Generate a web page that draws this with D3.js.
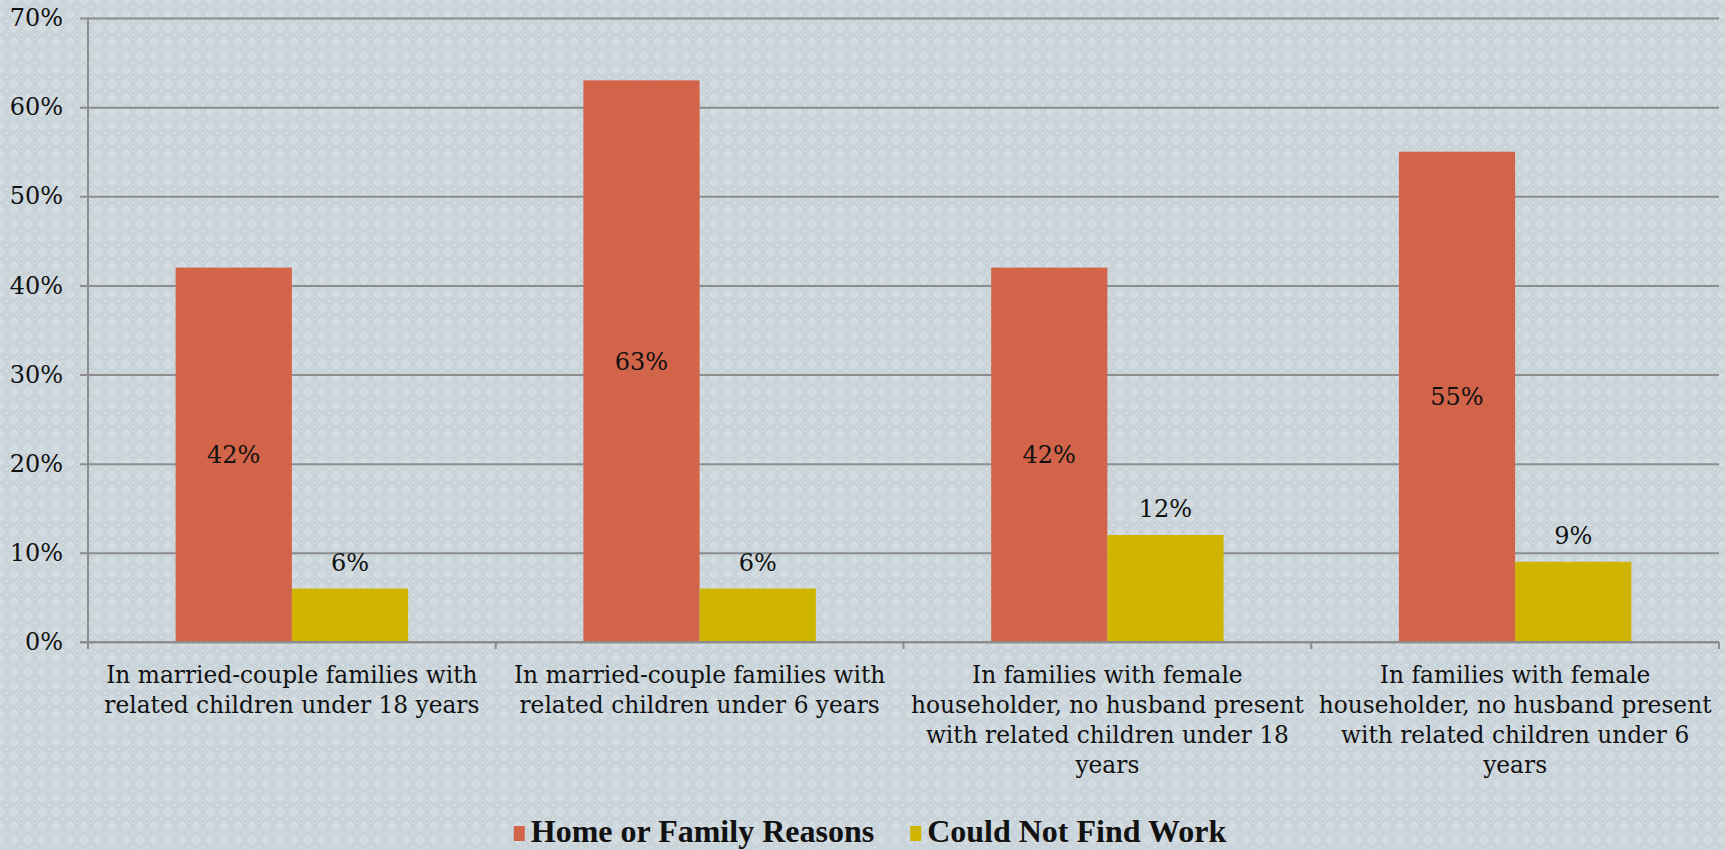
<!DOCTYPE html>
<html>
<head>
<meta charset="utf-8">
<script src="https://cdn.jsdelivr.net/npm/d3@7.9.0/dist/d3.min.js"></script>
<style>
  html, body { margin: 0; padding: 0; background: #d0dadf; }
  svg { display: block; }
  text { font-family: "DejaVu Serif", "Liberation Serif", serif; fill: #111; }
</style>
</head>
<body>
<svg id="chart" width="1725" height="850"></svg>
<script>
// Chart data
const categories = [
  "In married-couple families with\nrelated children under 18 years",
  "In married-couple families with\nrelated children under 6 years",
  "In families with female\nhouseholder, no husband present\nwith related children under 18\nyears",
  "In families with female\nhouseholder, no husband present\nwith related children under 6\nyears"
];
const seriesNames = ["Home or Family Reasons", "Could Not Find Work"];
const homeFamily = [42, 63, 42, 55];
const noWork = [6, 6, 12, 9];
const yTicks = [0, 10, 20, 30, 40, 50, 60, 70];
const colors = ["#d2644a", "#cfb400"];

const width = 1725, height = 850;
const margin = { top: 18, right: 6, bottom: 208, left: 88 };

const svg = d3.select('#chart');

// Background texture
const defs = svg.append('defs');
const pat = defs.append('pattern')
  .attr('id', 'bgpat')
  .attr('width', 14).attr('height', 14)
  .attr('patternUnits', 'userSpaceOnUse');
pat.append('rect').attr('width', 14).attr('height', 14).attr('fill', '#d1dbe0');
pat.append('path')
  .attr('d', 'M0,7 L7,0 L14,7 L7,14 Z M3.5,7 L7,3.5 L10.5,7 L7,10.5 Z')
  .attr('fill', 'none')
  .attr('stroke', '#c3ced5')
  .attr('stroke-width', 1.2);
svg.append('rect').attr('width', width).attr('height', height).attr('fill', 'url(#bgpat)');

const x0 = d3.scaleBand()
  .domain(categories)
  .range([margin.left, width - margin.right])
  .paddingInner(0).paddingOuter(0);

const x1 = d3.scaleBand()
  .domain(seriesNames)
  .range([0, x0.bandwidth()])
  .paddingInner(0).paddingOuter(0.754);

const y = d3.scaleLinear()
  .domain([0, 70])
  .range([height - margin.bottom, margin.top]);

const gridColor = '#8d8d8d';

// Gridlines + y labels
const yAxis = d3.axisLeft(y)
  .tickValues(yTicks)
  .tickSize(0)
  .tickPadding(17)
  .tickFormat(d => d + '%');

const gy = svg.append('g')
  .attr('transform', `translate(${margin.left - 8},0)`)
  .call(yAxis);
gy.select('.domain').remove();
gy.selectAll('.tick line')
  .attr('x1', 0)
  .attr('x2', width - margin.right - margin.left + 8)
  .attr('stroke', gridColor).attr('stroke-width', 2);
gy.selectAll('.tick text')
  .attr('font-size', 24)
  .attr('fill', '#111')
  .style('font-family', '"DejaVu Serif", serif');

// vertical axis line
svg.append('line')
  .attr('x1', margin.left).attr('x2', margin.left)
  .attr('y1', y(70)).attr('y2', y(0))
  .attr('stroke', gridColor).attr('stroke-width', 2);

// Bars
const rows = categories.map((c, i) => ({ cat: c, vals: [homeFamily[i], noWork[i]] }));

const groups = svg.append('g').selectAll('g')
  .data(rows)
  .join('g')
  .attr('transform', d => `translate(${x0(d.cat)},0)`);

groups.selectAll('rect')
  .data(d => d.vals.map((v, j) => ({ key: seriesNames[j], v, j })))
  .join('rect')
  .attr('x', d => x1(d.key))
  .attr('y', d => y(d.v))
  .attr('width', x1.bandwidth())
  .attr('height', d => y(0) - y(d.v))
  .attr('fill', d => colors[d.j]);

// Data labels
groups.selectAll('text.val')
  .data(d => d.vals.map((v, j) => ({ key: seriesNames[j], v, j })))
  .join('text')
  .attr('class', 'val')
  .attr('x', d => x1(d.key) + x1.bandwidth() / 2)
  .attr('y', d => d.j === 0 ? (y(d.v) + y(0)) / 2 : y(d.v) - 18)
  .attr('dy', d => d.j === 0 ? '0.35em' : 0)
  .attr('text-anchor', 'middle')
  .attr('font-size', 24)
  .text(d => d.v + '%');

// Bottom axis
const xAxis = d3.axisBottom(x0).tickSize(0).tickFormat('');
const gx = svg.append('g')
  .attr('transform', `translate(0,${y(0)})`)
  .call(xAxis);
gx.select('.domain').attr('stroke', gridColor).attr('stroke-width', 2)
  .attr('d', `M${margin.left - 8},0H${width - margin.right}`);
gx.selectAll('.tick').remove();

// category boundary ticks
const bounds = categories.map(c => x0(c)).concat([x0(categories[categories.length - 1]) + x0.bandwidth()]);
gx.selectAll('line.sep')
  .data(bounds)
  .join('line')
  .attr('class', 'sep')
  .attr('x1', d => d).attr('x2', d => d)
  .attr('y1', 0).attr('y2', 7)
  .attr('stroke', gridColor).attr('stroke-width', 2);

// Category labels
categories.forEach(c => {
  const cx = x0(c) + x0.bandwidth() / 2;
  const t = svg.append('text')
    .attr('text-anchor', 'middle')
    .attr('font-size', 23.3)
    .attr('x', cx)
    .attr('y', 683);
  c.split('\n').forEach((line, k) => {
    t.append('tspan')
      .attr('x', cx)
      .attr('dy', k === 0 ? 0 : 30)
      .text(line);
  });
});

// Legend
const legend = svg.append('g');
let lx = 0;
seriesNames.forEach((name, i) => {
  const g = legend.append('g');
  g.append('rect')
    .attr('x', 0).attr('y', -16)
    .attr('width', 11).attr('height', 15)
    .attr('fill', colors[i]);
  const txt = g.append('text')
    .attr('x', 17).attr('y', 0)
    .attr('font-size', 32)
    .attr('font-weight', 'bold')
    .style('font-family', '"Liberation Serif", serif')
    .text(name);
  const w = 17 + txt.node().getComputedTextLength();
  g.attr('transform', `translate(${lx},0)`);
  lx += w + 36;
});
const totalW = lx - 36;
legend.attr('transform', `translate(${870 - totalW / 2},842)`);
</script>
</body>
</html>
